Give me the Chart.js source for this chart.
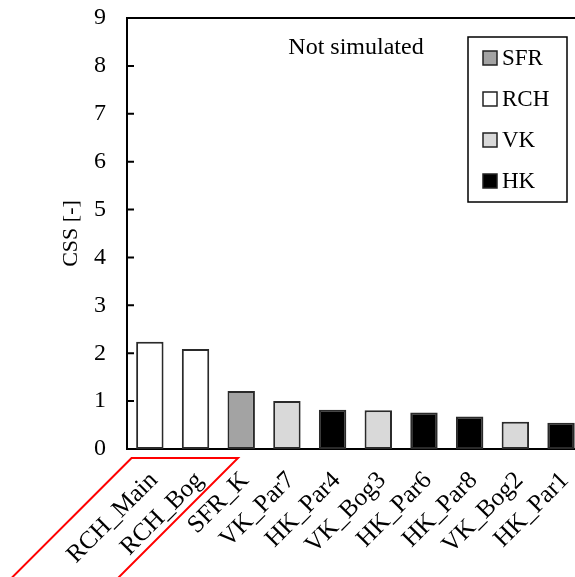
<!DOCTYPE html>
<html>
<head>
<meta charset="utf-8">
<script src="https://cdn.jsdelivr.net/npm/chart.js@4"></script>
<style>
  html, body { margin: 0; padding: 0; background: #fff; overflow: hidden; }
  #wrap { width: 575px; height: 577px; overflow: hidden; }
  #box { width: 600px; height: 577px; }
</style>
</head>
<body>
<div id="wrap"><div id="box"><canvas id="chart"></canvas></div></div>
<script>
// data
var categories = ['RCH_Main', 'RCH_Bog', 'SFR_K', 'VK_Par7', 'HK_Par4', 'VK_Bog3', 'HK_Par6', 'HK_Par8', 'VK_Bog2', 'HK_Par1'];
var cssValues = [2.24, 2.09, 1.21, 1.0, 0.82, 0.81, 0.76, 0.68, 0.57, 0.55];
var groupOf = ['RCH', 'RCH', 'SFR', 'VK', 'HK', 'VK', 'HK', 'HK', 'VK', 'HK'];
var legendGroups = ['SFR', 'RCH', 'VK', 'HK'];
var groupColors = ['#a3a3a3', '#ffffff', '#d9d9d9', '#000000'];
var yTicks = [0, 1, 2, 3, 4, 5, 6, 7, 8, 9];
var highlighted = ['RCH_Main', 'RCH_Bog'];

var FONT = "'Liberation Serif', 'Times New Roman', serif";

function colorFor(group) {
  return groupColors[legendGroups.indexOf(group)];
}

// inner ticks, top border, note, legend box and red frame
var decorations = {
  id: 'decorations',
  afterDraw: function (chart) {
    var ctx = chart.ctx;
    var area = chart.chartArea;
    var y = chart.scales.y;
    var x = chart.scales.x;
    ctx.save();

    ctx.strokeStyle = '#000';
    ctx.lineWidth = 2;
    ctx.beginPath();
    ctx.moveTo(area.left, area.top);
    ctx.lineTo(area.right + 5, area.top);
    yTicks.forEach(function (t) {
      var py = y.getPixelForValue(t);
      ctx.moveTo(area.left, py);
      ctx.lineTo(area.left + 7, py);
    });
    ctx.stroke();

    // note
    ctx.fillStyle = '#000';
    ctx.font = '24px ' + FONT;
    ctx.textAlign = 'center';
    ctx.textBaseline = 'alphabetic';
    ctx.fillText('Not simulated', 356, 54);

    // legend
    var lx = 468, ly = 37, lw = 99, lh = 165;
    ctx.lineWidth = 1.5;
    ctx.strokeStyle = '#000';
    ctx.strokeRect(lx, ly, lw, lh);
    ctx.font = '23px ' + FONT;
    ctx.textAlign = 'left';
    ctx.textBaseline = 'middle';
    legendGroups.forEach(function (g, i) {
      var cy = 58 + i * 41;
      ctx.fillStyle = groupColors[i];
      ctx.fillRect(483, cy - 7, 14, 14);
      ctx.lineWidth = 1.5;
      ctx.strokeStyle = '#222';
      ctx.strokeRect(483, cy - 7, 14, 14);
      ctx.fillStyle = '#000';
      ctx.fillText(g, 502, cy + 1);
    });

    // red frame around the first two labels
    var step = x.getPixelForValue(1) - x.getPixelForValue(0);
    var x0 = x.getPixelForValue(categories.indexOf(highlighted[0])) - 0.4 * step;
    var x1 = x.getPixelForValue(categories.indexOf(highlighted[1]) + 1) - 0.07 * step;
    var top = area.bottom + 9;
    var drop = chart.height - top + 10;
    ctx.strokeStyle = '#ff0000';
    ctx.lineWidth = 2;
    ctx.beginPath();
    ctx.moveTo(x0 - drop, top + drop);
    ctx.lineTo(x0, top);
    ctx.lineTo(x1, top);
    ctx.lineTo(x1 - drop, top + drop);
    ctx.stroke();

    ctx.restore();
  }
};

new Chart(document.getElementById('chart'), {
  type: 'bar',
  data: {
    labels: categories,
    datasets: [{
      label: 'CSS',
      data: cssValues,
      backgroundColor: groupOf.map(colorFor),
      borderColor: '#2a2a2a',
      borderWidth: 2,
      borderSkipped: false,
      barPercentage: 0.6,
      categoryPercentage: 1.0
    }]
  },
  options: {
    responsive: true,
    maintainAspectRatio: false,
    animation: false,
    layout: { padding: { top: 18, right: 15, left: 58, bottom: 0 } },
    plugins: {
      legend: { display: false },
      tooltip: { enabled: false }
    },
    scales: {
      x: {
        grid: { display: false, drawTicks: false },
        border: { display: true, color: '#000', width: 2 },
        ticks: {
          color: '#000',
          font: { family: FONT, size: 25 },
          minRotation: 45,
          maxRotation: 45,
          autoSkip: false,
          labelOffset: 4,
          padding: 17
        },
        afterFit: function (scale) { scale.height = 128; }
      },
      y: {
        min: 0,
        max: 9,
        afterBuildTicks: function (scale) {
          scale.ticks = yTicks.map(function (v) { return { value: v }; });
        },
        grid: { display: false, drawTicks: false },
        border: { display: true, color: '#000', width: 2 },
        ticks: {
          color: '#000',
          font: { family: FONT, size: 24 },
          padding: 21
        },
        title: {
          display: true,
          text: 'CSS [-]',
          color: '#000',
          font: { family: FONT, size: 22 },
          padding: 0
        },
        afterFit: function (scale) {
          scale.width = 69;
          scale.paddingTop = 0;
          scale.paddingBottom = 0;
        }
      }
    }
  },
  plugins: [decorations]
});
</script>
</body>
</html>
